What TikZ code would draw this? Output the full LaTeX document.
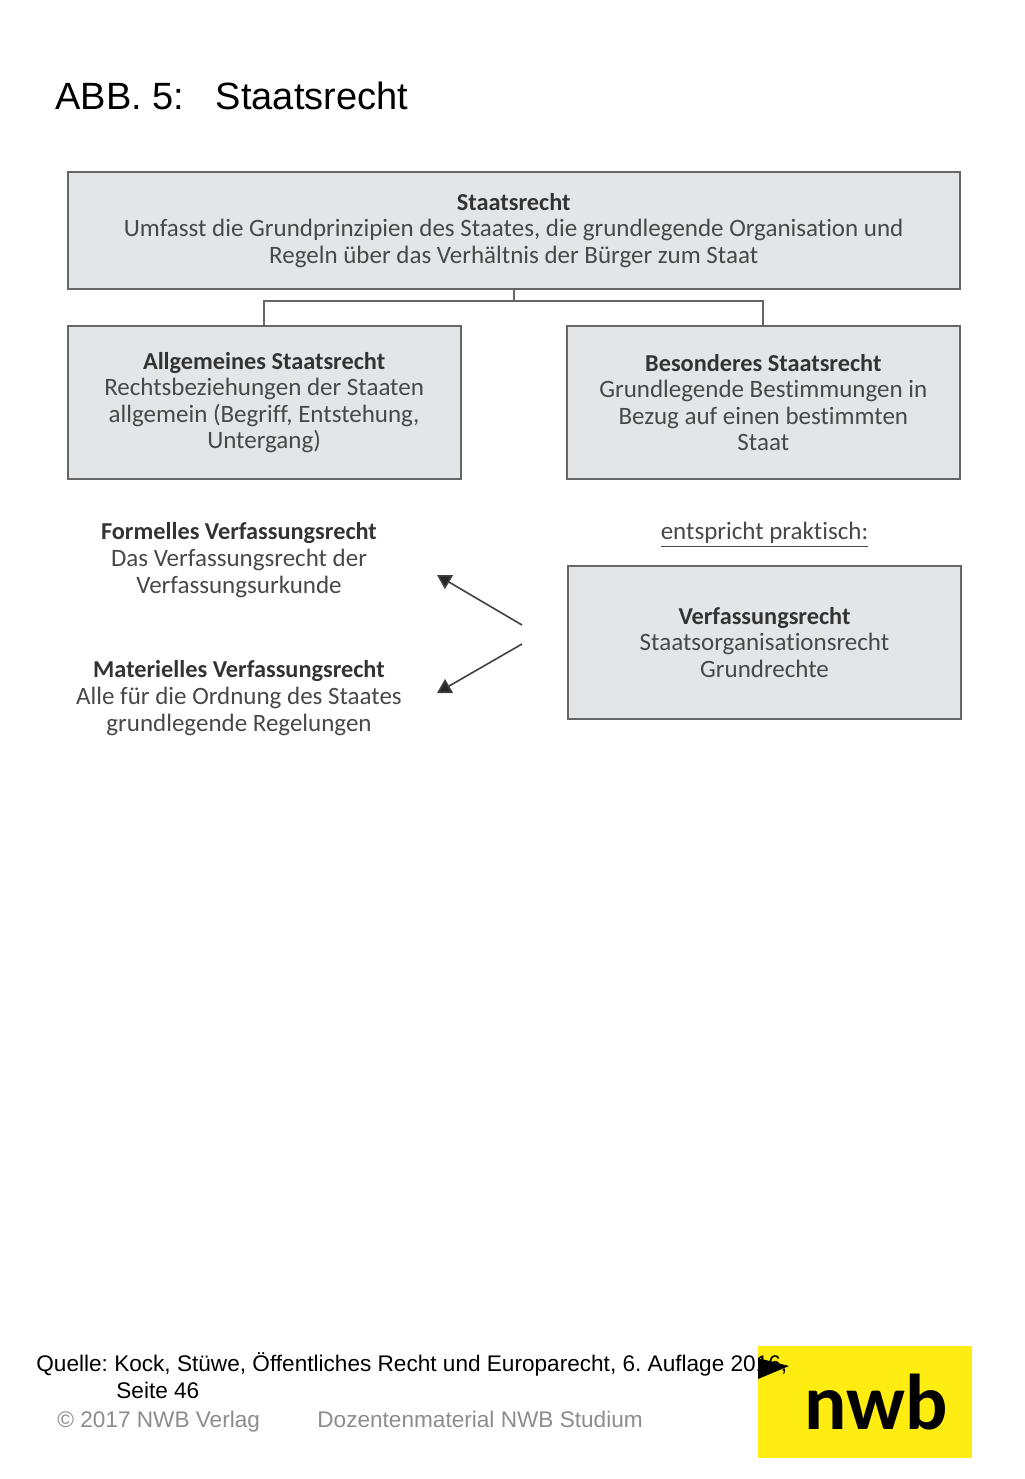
\documentclass[tikz,border=0pt]{standalone}
\usepackage{fontspec}
\setmainfont{Liberation Sans}
\newfontfamily\boxfont[Ligatures=NoCommon]{Carlito}
\usetikzlibrary{arrows.meta, positioning}
\definecolor{boxgray}{HTML}{E3E5E6}
\definecolor{linegray}{HTML}{666666}
\definecolor{textgray}{HTML}{484848}
\definecolor{footgray}{HTML}{8C8C8C}
\definecolor{logoyellow}{HTML}{FFED12}
\tikzstyle{topbox} = [rectangle, minimum width=446pt, minimum height=58.5pt, text centered, align=center, draw=linegray, line width=1pt, fill=boxgray, text=textgray, font=\boxfont\fontsize{12.5}{13.25}\selectfont]
\tikzstyle{subbox} = [topbox, minimum width=196.5pt, minimum height=76.5pt]
\tikzstyle{plain} = [align=center, inner sep=0pt, text=textgray, font=\boxfont\fontsize{12.5}{13.5}\selectfont]
\tikzstyle{foot} = [anchor=base west, inner sep=0pt, font=\frenchspacing\fontsize{11.3}{14}\selectfont]
\tikzstyle{arrow} = [line width=0.8pt, draw=black!75, -{Triangle[length=7pt, width=8pt, fill=black!85]}]
\tikzstyle{link} = [line width=1pt, draw=linegray]
\newcommand{\hd}[1]{{\fontsize{12.15}{13.25}\selectfont\textbf{\color{black!80}#1}}}

\begin{document}
\begin{tikzpicture}[x=0.5pt, y=-0.5pt, node distance=86pt]

\useasboundingbox (0,0) rectangle (1024,1479);

\node (title) [anchor=base west, inner sep=0pt, font=\fontsize{19}{22}\selectfont] at (55,109) {ABB. 5:\hspace{15.8pt}Staatsrecht};

\node (staat) [topbox] at (513.7,230.5) {\hd{Staatsrecht}\\Umfasst die Grundprinzipien des Staates, die grundlegende Organisation und\\Regeln über das Verhältnis der Bürger zum Staat};
\node (allg) [subbox, below of=staat, xshift=-124.8pt] {\hd{Allgemeines Staatsrecht}\\Rechtsbeziehungen der Staaten\\allgemein (Begriff, Entstehung,\\Untergang)};
\node (bes) [subbox, right of=allg, node distance=249.6pt] {\hd{Besonderes Staatsrecht}\\Grundlegende Bestimmungen in\\Bezug auf einen bestimmten\\Staat};
\node (verf) [subbox, below of=bes, node distance=120pt, xshift=0.6pt] {\hd{Verfassungsrecht}\\Staatsorganisationsrecht\\Grundrechte};

\node (praktisch) [plain, above of=verf, node distance=54pt] {\underline{entspricht praktisch:}};
\node (formell) [plain] at (239,560.5) {\hd{Formelles Verfassungsrecht}\\Das Verfassungsrecht der\\Verfassungsurkunde};
\node (materiell) [plain, below of=formell, node distance=69pt] {\hd{Materielles Verfassungsrecht}\\Alle für die Ordnung des Staates\\grundlegende Regelungen};

\coordinate (bus) at (513.7,301);
\draw [link] (staat.south) -- (bus);
\draw [link] (bus) -| (allg.north);
\draw [link] (bus) -| (bes.north);

\coordinate (fromtop) at (522,625);
\coordinate (totop) at (437,575);
\coordinate (frombot) at (522,644);
\coordinate (tobot) at (437,693);
\draw [arrow] (fromtop) -- (totop);
\draw [arrow] (frombot) -- (tobot);

\node (logo) [rectangle, fill=logoyellow, minimum width=107pt, minimum height=56pt, inner sep=0pt] at (865,1402) {};
\node (nwb) [anchor=base, inner sep=0pt, font=\boxfont\bfseries\fontsize{39.5}{40}\selectfont] at (876,1429) {nwb};

\node (quelle) [foot] at (36,1371) {Quelle: Kock, Stüwe, Öffentliches Recht und Europarecht, 6. Auflage 2016,};
\node (seite) [foot] at (116,1398) {Seite 46};
\node (copy) [foot, text=footgray] at (57,1427) {© 2017 NWB Verlag};
\node (dozent) [foot, text=footgray] at (317,1427) {Dozentenmaterial NWB Studium};

\fill (758,1358) -- (789,1366) -- (758,1379) -- cycle;

\end{tikzpicture}
\end{document}
